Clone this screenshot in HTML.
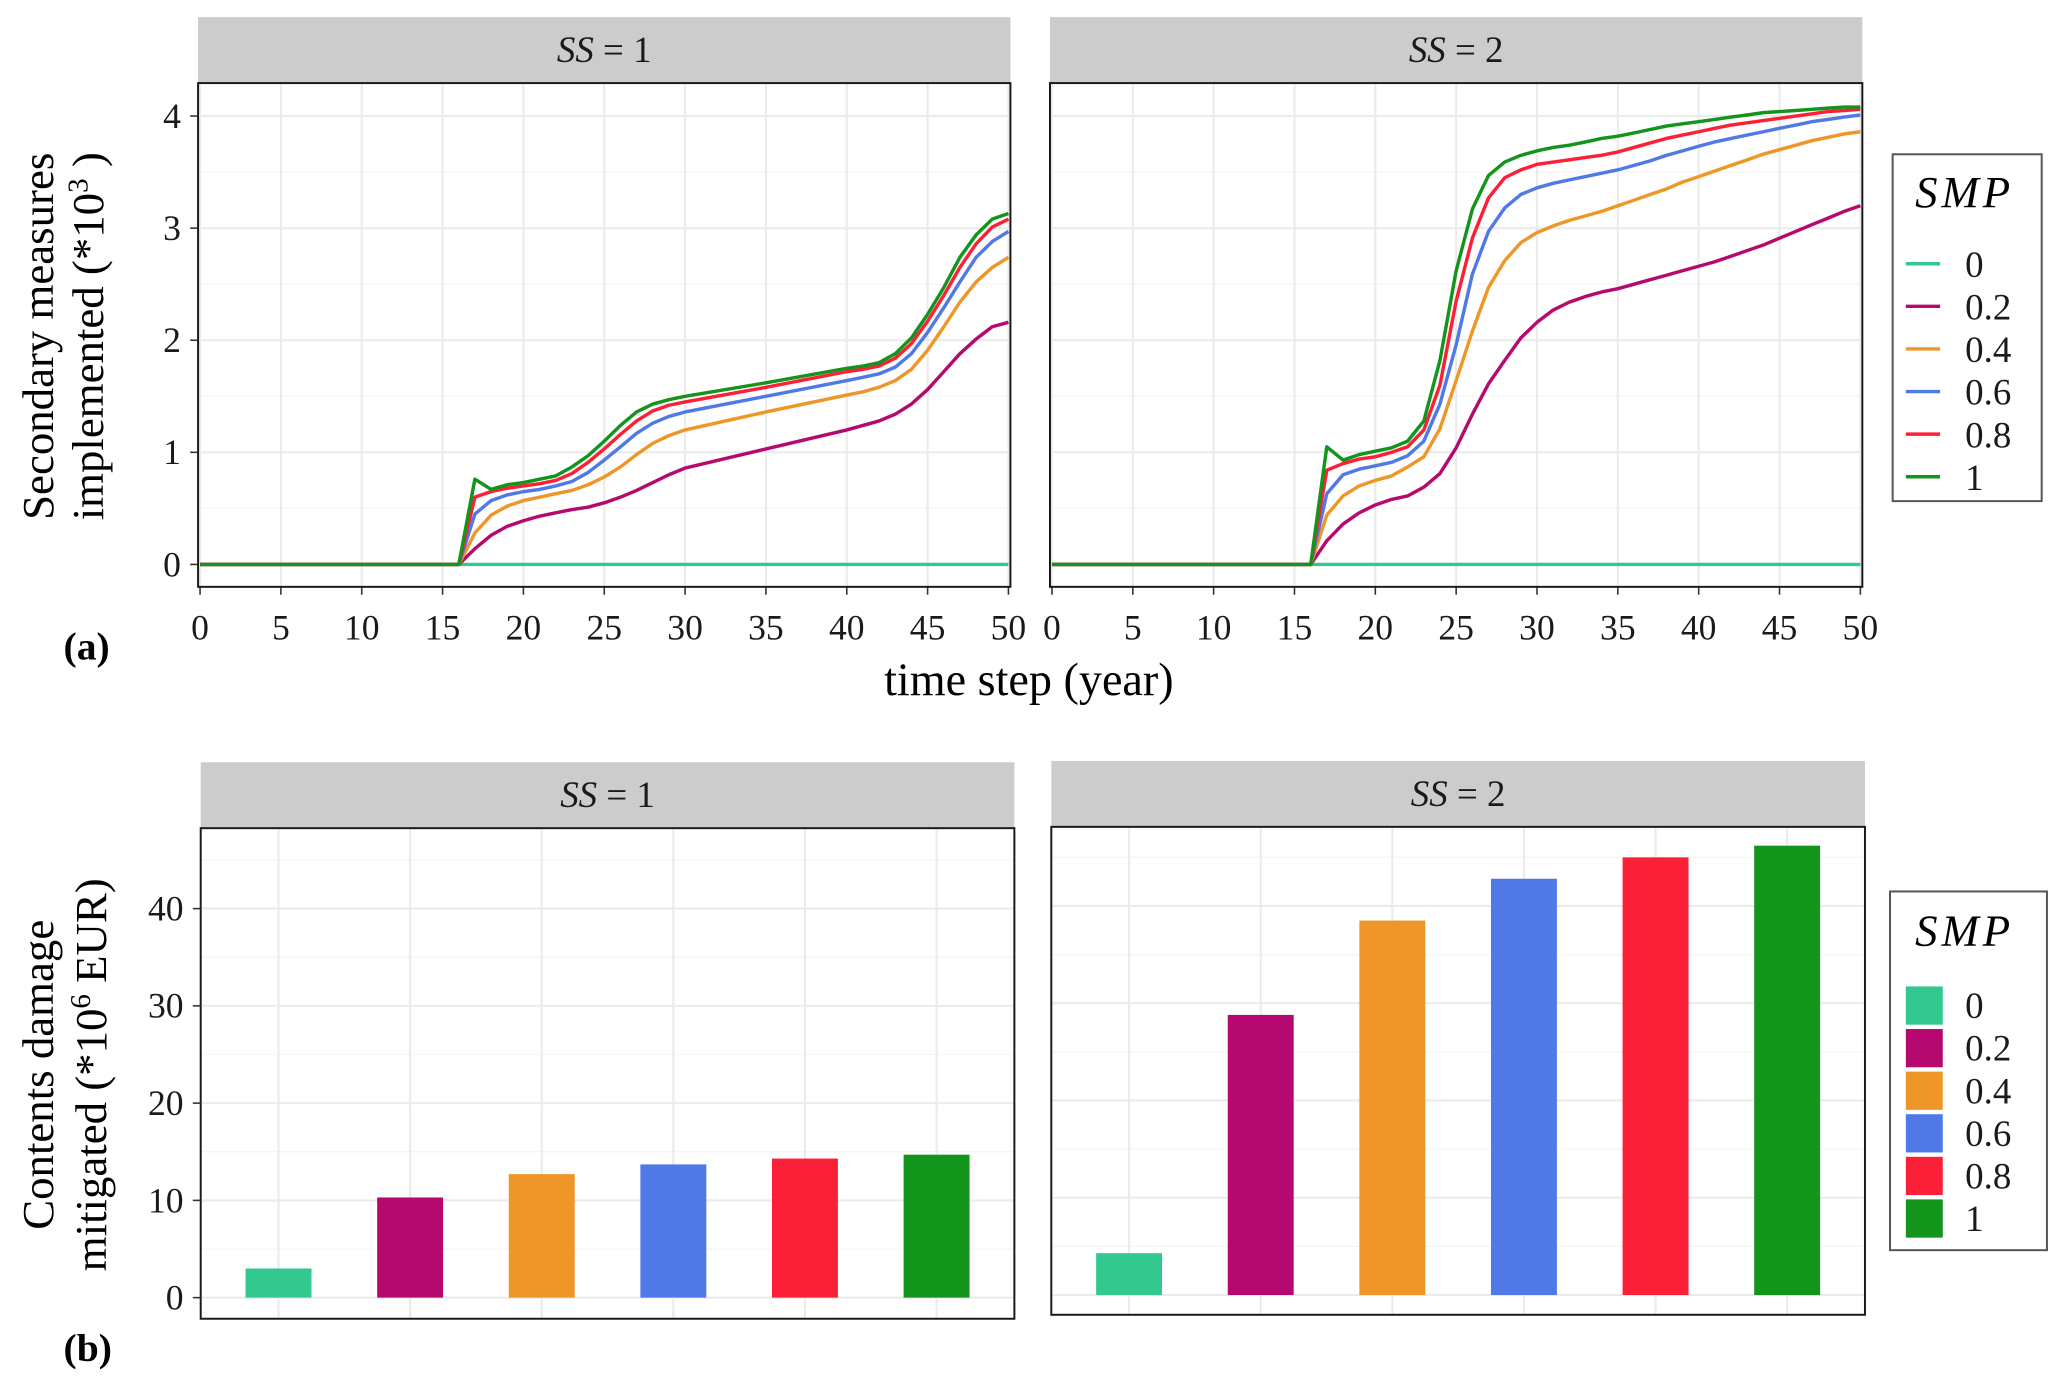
<!DOCTYPE html>
<html><head><meta charset="utf-8"><style>
html,body{margin:0;padding:0;background:#fff;}
svg{display:block;font-family:"Liberation Serif",serif;}
</style></head><body>
<svg id="chart" width="2067" height="1386" viewBox="0 0 1567 1051" xmlns="http://www.w3.org/2000/svg">
</svg>
<script>
// ---------- data ----------
const smpLevels = ["0","0.2","0.4","0.6","0.8","1"];
const colors = ["#33c88f","#b5096f","#ee9627","#5079e8","#fb2038","#13941b"];

const years1 = [0,16,17,18,19,20,21,22,23,24,25,26,27,28,29,30,35,40,41,42,43,44,45,46,47,48,49,50];
const ss1_smp0   = [0,0,0,0,0,0,0,0,0,0,0,0,0,0,0,0,0,0,0,0,0,0,0,0,0,0,0,0];
const ss1_smp02  = [0,0,0.14,0.26,0.34,0.39,0.43,0.46,0.49,0.51,0.55,0.60,0.66,0.73,0.80,0.86,1.03,1.20,1.24,1.28,1.34,1.43,1.56,1.72,1.88,2.01,2.12,2.16];
const ss1_smp04  = [0,0,0.28,0.44,0.52,0.57,0.60,0.63,0.66,0.71,0.78,0.87,0.98,1.08,1.15,1.20,1.36,1.51,1.54,1.58,1.64,1.74,1.91,2.12,2.34,2.52,2.65,2.74];
const ss1_smp06  = [0,0,0.45,0.57,0.62,0.65,0.67,0.70,0.74,0.82,0.93,1.05,1.17,1.26,1.32,1.36,1.50,1.64,1.67,1.70,1.76,1.88,2.07,2.29,2.52,2.74,2.88,2.97];
const ss1_smp08  = [0,0,0.60,0.65,0.68,0.70,0.72,0.75,0.81,0.91,1.03,1.16,1.28,1.37,1.42,1.45,1.58,1.72,1.74,1.77,1.84,1.97,2.17,2.40,2.65,2.86,3.01,3.08];
const ss1_smp1   = [0,0,0.76,0.67,0.71,0.73,0.76,0.79,0.87,0.97,1.10,1.24,1.36,1.43,1.47,1.50,1.62,1.75,1.77,1.80,1.88,2.02,2.23,2.47,2.74,2.94,3.08,3.13];

const years2 = [0,16,17,18,19,20,21,22,23,24,25,26,27,28,29,30,31,32,33,34,35,36,37,38,39,40,41,42,43,44,45,46,47,48,49,50];
const ss2_smp0   = [0,0,0,0,0,0,0,0,0,0,0,0,0,0,0,0,0,0,0,0,0,0,0,0,0,0,0,0,0,0,0,0,0,0,0,0];
const ss2_smp02  = [0,0,0.21,0.36,0.46,0.53,0.58,0.61,0.69,0.81,1.04,1.34,1.61,1.82,2.02,2.16,2.27,2.34,2.39,2.43,2.46,2.50,2.54,2.58,2.62,2.66,2.70,2.75,2.80,2.85,2.91,2.97,3.03,3.09,3.15,3.20];
const ss2_smp04  = [0,0,0.44,0.61,0.70,0.75,0.79,0.87,0.96,1.21,1.64,2.08,2.47,2.71,2.87,2.96,3.02,3.07,3.11,3.15,3.20,3.25,3.30,3.35,3.41,3.46,3.51,3.56,3.61,3.66,3.70,3.74,3.78,3.81,3.84,3.86];
const ss2_smp06  = [0,0,0.63,0.80,0.85,0.88,0.91,0.97,1.10,1.43,1.96,2.59,2.97,3.18,3.30,3.36,3.40,3.43,3.46,3.49,3.52,3.56,3.60,3.65,3.69,3.73,3.77,3.80,3.83,3.86,3.89,3.92,3.95,3.97,3.99,4.01];
const ss2_smp08  = [0,0,0.84,0.90,0.94,0.96,1.00,1.05,1.20,1.60,2.35,2.91,3.27,3.45,3.52,3.57,3.59,3.61,3.63,3.65,3.68,3.72,3.76,3.80,3.83,3.86,3.89,3.92,3.94,3.96,3.98,4.00,4.02,4.04,4.05,4.06];
const ss2_smp1   = [0,0,1.05,0.93,0.98,1.01,1.04,1.10,1.28,1.82,2.62,3.17,3.47,3.59,3.65,3.69,3.72,3.74,3.77,3.80,3.82,3.85,3.88,3.91,3.93,3.95,3.97,3.99,4.01,4.03,4.04,4.05,4.06,4.07,4.08,4.08];

const xTicks = [0,5,10,15,20,25,30,35,40,45,50];
const yTicksA = [0,1,2,3,4];
const barsSS1 = [3.0,10.3,12.7,13.7,14.3,14.7];
const barsSS2 = [4.3,28.8,38.5,42.8,45.0,46.2];
const yTicksB = [0,10,20,30,40];

// ---------- helpers ----------
const NS = "http://www.w3.org/2000/svg";
const svg = document.getElementById("chart");
function mk(tag, attrs, parent){
  const e = document.createElementNS(NS, tag);
  for (const k in attrs) e.setAttribute(k, attrs[k]);
  (parent||svg).appendChild(e);
  return e;
}
function txt(s, attrs, parent){ const t = mk("text", attrs, parent); t.textContent = s; return t; }

// ---------- panel (a) ----------
const panelsA = [
  {x0:150, x1:766, label:"1", ys:[ss1_smp0,ss1_smp02,ss1_smp04,ss1_smp06,ss1_smp08,ss1_smp1], yrs:years1, name:"ss1"},
  {x0:796, x1:1412, label:"2", ys:[ss2_smp0,ss2_smp02,ss2_smp04,ss2_smp06,ss2_smp08,ss2_smp1], yrs:years2, name:"ss2"}
];
const aTop=63, aBot=445;
function yA(v){ return 428 - v*85; }
panelsA.forEach((p)=>{
  const xA = v => p.x0 + 1.5 + v*(p.x1-p.x0-3)/50;
  const g = mk("g",{});
  
  
  const strip = mk("rect",{x:p.x0,y:13,width:p.x1-p.x0,height:50,fill:"#cccccc"},g);
  
  
  const st = txt("", {x:(p.x0+p.x1)/2,y:47,"text-anchor":"middle","font-size":28,fill:"#1a1a1a"},g);
  st.innerHTML = '<tspan font-style="italic">SS</tspan> = ' + p.label;
  
  
  mk("rect",{x:p.x0,y:aTop,width:p.x1-p.x0,height:aBot-aTop,fill:"#fff"},g);
  for (let v=0.5; v<4.3; v+=1) mk("line",{x1:p.x0,x2:p.x1,y1:yA(v),y2:yA(v),stroke:"#f5f5f5","stroke-width":1},g);
  yTicksA.forEach(v=>mk("line",{x1:p.x0,x2:p.x1,y1:yA(v),y2:yA(v),stroke:"#ebebeb","stroke-width":1.6},g));
  xTicks.forEach(v=>{
    mk("line",{x1:xA(v),x2:xA(v),y1:aTop,y2:aBot,stroke:"#ebebeb","stroke-width":1.6},g);
    mk("line",{x1:xA(v),x2:xA(v),y1:aBot,y2:aBot+6,stroke:"#333","stroke-width":1.2},g);
    const t = txt(String(v),{x:xA(v),y:485,"text-anchor":"middle","font-size":27,fill:"#1a1a1a"},g);
    
    
  });
  p.ys.forEach((series,i)=>{
    const d = series.map((v,k)=>(k?"L":"M")+xA(p.yrs[k]).toFixed(1)+","+yA(v).toFixed(1)).join(" ");
    const path = mk("path",{d:d,fill:"none",stroke:colors[i],"stroke-width":2.6,"stroke-linejoin":"round"},g);
    
    
  });
  mk("rect",{x:p.x0,y:aTop,width:p.x1-p.x0,height:aBot-aTop,fill:"none",stroke:"#1a1a1a","stroke-width":1.5},g);
});
yTicksA.forEach(v=>{
  mk("line",{x1:144,x2:150,y1:yA(v),y2:yA(v),stroke:"#333","stroke-width":1.2});
  const t = txt(String(v),{x:137,y:yA(v)+9,"text-anchor":"end","font-size":27,fill:"#1a1a1a"});
  
  
});
let t;
t = txt("time step (year)",{x:780,y:527,"text-anchor":"middle","font-size":35,fill:"#000"});


t = txt("",{transform:"translate(40,255) rotate(-90)","text-anchor":"middle","font-size":34,fill:"#000"});
t.innerHTML = "Secondary measures";


t = txt("",{transform:"translate(78,255) rotate(-90)","text-anchor":"middle","font-size":34,fill:"#000"});
t.innerHTML = 'implemented (*10<tspan dy="-12" font-size="22">3</tspan><tspan dy="12"> )</tspan>';


t = txt("(a)",{x:48,y:500,"font-size":30,"font-weight":"bold",fill:"#000"});



// legend a
let lg = mk("g",{});


mk("rect",{x:1435,y:117,width:113,height:263,fill:"#fff",stroke:"#555","stroke-width":1.5},lg);
t = txt("SMP",{x:1452,y:157,"font-size":34,"font-style":"italic","letter-spacing":"3",fill:"#000"},lg);


smpLevels.forEach((s,i)=>{
  const y = 200 + i*32.3;
  const l = mk("line",{x1:1445,x2:1471,y1:y,y2:y,stroke:colors[i],"stroke-width":2.6},lg);
  
  
  const tt = txt(s,{x:1490,y:y+10,"font-size":28,fill:"#1a1a1a"},lg);
  
  
});

// ---------- panel (b) ----------
const panelsB = [
  {x0:152, x1:769, top:628, bot:1000, zero:984, label:"1", vals:barsSS1, name:"ss1"},
  {x0:797, x1:1414, top:627, bot:997, zero:982, label:"2", vals:barsSS2, name:"ss2"}
];
const bScale = 7.375;
panelsB.forEach(p=>{
  const yB = v => p.zero - v*bScale;
  const xB = i => p.x0 + 59 + i*99.8;
  const g = mk("g",{});
  
  
  const strip = mk("rect",{x:p.x0,y:p.top-50,width:p.x1-p.x0,height:50,fill:"#cccccc"},g);
  
  
  const st = txt("",{x:(p.x0+p.x1)/2,y:p.top-16,"text-anchor":"middle","font-size":28,fill:"#1a1a1a"},g);
  st.innerHTML = '<tspan font-style="italic">SS</tspan> = ' + p.label;
  
  
  for (let v=5; v<50; v+=10) mk("line",{x1:p.x0,x2:p.x1,y1:yB(v),y2:yB(v),stroke:"#f5f5f5","stroke-width":1},g);
  yTicksB.forEach(v=>mk("line",{x1:p.x0,x2:p.x1,y1:yB(v),y2:yB(v),stroke:"#ebebeb","stroke-width":1.6},g));
  p.vals.forEach((v,i)=>mk("line",{x1:xB(i),x2:xB(i),y1:p.top,y2:p.bot,stroke:"#ebebeb","stroke-width":1.6},g));
  p.vals.forEach((v,i)=>{
    const r = mk("rect",{x:xB(i)-25,y:yB(v),width:50,height:v*bScale,fill:colors[i]},g);
    
    
  });
  mk("rect",{x:p.x0,y:p.top,width:p.x1-p.x0,height:p.bot-p.top,fill:"none",stroke:"#1a1a1a","stroke-width":1.5},g);
});
yTicksB.forEach(v=>{
  const y = 984 - v*bScale;
  mk("line",{x1:146,x2:152,y1:y,y2:y,stroke:"#333","stroke-width":1.2});
  const tt = txt(String(v),{x:139,y:y+9,"text-anchor":"end","font-size":27,fill:"#1a1a1a"});
  
  
});
t = txt("Contents damage",{transform:"translate(40,815) rotate(-90)","text-anchor":"middle","font-size":34,fill:"#000"});


t = txt("",{transform:"translate(80,815) rotate(-90)","text-anchor":"middle","font-size":34,fill:"#000"});
t.innerHTML = 'mitigated (*10<tspan dy="-12" font-size="22">6</tspan><tspan dy="12"> EUR)</tspan>';


t = txt("(b)",{x:48,y:1032,"font-size":30,"font-weight":"bold",fill:"#000"});



lg = mk("g",{});


mk("rect",{x:1433,y:676,width:119,height:272,fill:"#fff",stroke:"#555","stroke-width":1.5},lg);
t = txt("SMP",{x:1452,y:717,"font-size":34,"font-style":"italic","letter-spacing":"3",fill:"#000"},lg);


smpLevels.forEach((s,i)=>{
  const y = 762 + i*32.3;
  const r = mk("rect",{x:1445,y:y-14,width:28,height:29,fill:colors[i]},lg);
  
  
  const tt = txt(s,{x:1490,y:y+10,"font-size":28,fill:"#1a1a1a"},lg);
  
  
});
</script>
</body></html>
